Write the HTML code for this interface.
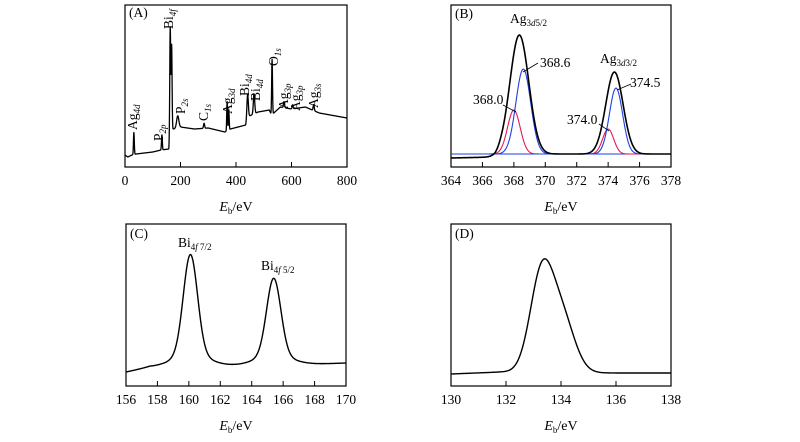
<!DOCTYPE html>
<html><head><meta charset="utf-8"><style>
html,body{margin:0;padding:0;background:#fff}
svg{display:block;font-family:"Liberation Serif",serif}
</style></head><body>
<svg id="fig" width="800" height="442" viewBox="0 0 800 442"></svg>
<script>
// ---- Panel A data (survey) ----
const aBaseX = [0,10,25,40,100,130,158,162,175,200,250,300,360,380,435,440,480,520,528,540,560,600,650,700,800];
const aBaseY = [12,10,12,13,15,17,18,38,38,40,38,39,35,38,42,50,55,57,52,55,60,58,60,54,49];
const aPeakPos = [32,133,163,168,190,285,368,374,442,465,530,573,604,680];
const aPeakHt  = [22,15,101,84,12,5,29,20,22,20,55,6,4,6];
const aPeakW   = [1.5,1.5,1.6,1.6,4,2,1.4,1.4,2.5,2.5,1.5,2,2,2];
const aTicks = [0,200,400,600,800];
// ---- Panel B data (Ag 3d) ----
const bBase = 13;
const bPos = [368.0,368.6,374.0,374.5];
const bHt  = [44,85,25,66];
const bW   = [0.4,0.47,0.35,0.42];
const bColor = ['#e8194f','#1f3fe0','#e8194f','#1f3fe0'];
const bMeasPos = [368.35,374.4];
const bMeasHt  = [119,82];
const bMeasW   = [0.6,0.55];
const bTicks = [364,366,368,370,372,374,376,378];
// ---- Panel C data (Bi 4f) ----
const cBaseX = [156,157.5,158.5,161.5,166.5,170];
const cBaseY = [14,19,19,20,21,23];
const cPos = [160.1,165.4];
const cHt  = [100,77];
const cTail = [12,10];
const cW   = [0.45,0.45];
const cTicks = [156,158,160,162,164,166,168,170];
// ---- Panel D data (P 2p) ----
const dBaseX = [130,131.8,136,138];
const dBaseY = [12,14,13,13];
const dPos = [133.3,134.05];
const dHt  = [98,52];
const dW   = [0.42,0.45];
const dTicks = [130,132,134,136,138];

const NS='http://www.w3.org/2000/svg';
const svg=document.getElementById('fig');
function mk(tag,attrs,parent){const e=document.createElementNS(NS,tag);for(const k in attrs)e.setAttribute(k,attrs[k]);(parent||svg).appendChild(e);return e;}
function interp(xs,ys,x){if(x<=xs[0])return ys[0];for(let i=1;i<xs.length;i++){if(x<=xs[i]){const t=(x-xs[i-1])/(xs[i]-xs[i-1]);return ys[i-1]+t*(ys[i]-ys[i-1]);}}return ys[ys.length-1];}
function gauss(x,p,h,w){return h*Math.exp(-0.5*((x-p)/w)*((x-p)/w));}

function panel(name,L,R,T,B,x0,x1,ticks,ymax){
  const g=mk('g',{});
  
  
  const sx=v=>L+(v-x0)/(x1-x0)*(R-L);
  const sy=v=>B-v/ymax*(B-T);
  const frame=mk('rect',{x:L,y:T,width:R-L,height:B-T,fill:'none',stroke:'#000','stroke-width':1.2},g);
  
  
  ticks.forEach(t=>{
    const tk=mk('line',{x1:sx(t),x2:sx(t),y1:B,y2:B-5,stroke:'#000','stroke-width':1},g);
    
    
    const lb=mk('text',{x:sx(t),y:B+18,'text-anchor':'middle','font-size':13.5},g);
    lb.textContent=t;
    
    
  });
  const tt=mk('text',{x:(L+R)/2,y:B+44,'text-anchor':'middle','font-size':14},g);
  tt.innerHTML='<tspan font-style="italic">E</tspan><tspan font-size="9" dy="3">b</tspan><tspan dy="-3">/eV</tspan>';
  
  
  return {g,sx,sy};
}
function curve(P,x0,x1,step,fn,color,width,name){
  let d='';for(let x=x0;x<=x1+1e-9;x+=step){d+=(d?'L':'M')+P.sx(x).toFixed(2)+','+P.sy(fn(x)).toFixed(2);}
  const p=mk('path',{d,fill:'none',stroke:color,'stroke-width':width,'stroke-linejoin':'round'},P.g);
  
  
}
function label(P,x,y,html,name,rot,size){
  const t=mk('text',{x,y,'font-size':size||13.5},P.g);
  if(rot)t.setAttribute('transform','rotate(-90 '+x+' '+y+')');
  t.innerHTML=html;
  
  
}
function leader(P,x1,y1,x2,y2){
  const l=mk('line',{x1,y1,x2,y2,stroke:'#000','stroke-width':0.8},P.g);
  
  
}
const sub=(s,it)=>'<tspan font-size="9" dy="3"'+(it?' font-style="italic"':'')+'>'+s+'</tspan><tspan dy="-3"></tspan>';

// Panel A
const A=panel('panel-a-survey',125,347,5,167,0,800,aTicks,162);
curve(A,0,800,0.5,x=>{let v=interp(aBaseX,aBaseY,x);for(let i=0;i<aPeakPos.length;i++)v+=gauss(x,aPeakPos[i],aPeakHt[i],aPeakW[i]);return v;},'#000',1.3,'survey-spectrum');
label(A,129,17,'(A)','panel-label');
label(A,137,130,'Ag'+sub('4d',true),'label-ag4d',true);
label(A,173,29,'Bi'+sub('4f',true),'label-bi4f',true);
label(A,163,141,'P'+sub('2p',true),'label-p2p',true);
label(A,185,114,'P'+sub('2s',true),'label-p2s',true);
label(A,208,121,'C'+sub('1s',true),'label-c1s',true);
label(A,232,114,'Ag'+sub('3d',true),'label-ag3d',true);
label(A,249,96,'Bi'+sub('4d',true),'label-bi4d-1',true);
label(A,260,101,'Bi'+sub('4d',true),'label-bi4d-2',true);
label(A,278,66,'O'+sub('1s',true),'label-o1s',true);
label(A,288,109,'Ag'+sub('3p',true),'label-ag3p-1',true);
label(A,300,111,'Ag'+sub('3p',true),'label-ag3p-2',true);
label(A,318,108,'Ag'+sub('3s',true),'label-ag3s',true);

// Panel B
const B=panel('panel-b-ag3d',451,671,5,167,364,378,bTicks,162);
for(let i=0;i<bPos.length;i++){
  curve(B,364,378,0.05,x=>bBase+gauss(x,bPos[i],bHt[i],bW[i]),bColor[i],1.1,'fit-component-'+bPos[i]);
}
curve(B,364,378,0.05,x=>{let v=interp([364,366.8,367.2,378],[9,10,bBase,bBase],x);for(let i=0;i<bMeasPos.length;i++)v+=gauss(x,bMeasPos[i],bMeasHt[i],bMeasW[i]);return v;},'#000',1.6,'ag3d-measured');
label(B,455,18,'(B)','panel-label');
label(B,510,23,'Ag'+sub('3<tspan font-style="italic">d</tspan>5/2'),'label-ag3d52',false);
label(B,540,67,'368.6','label-368-6');
leader(B,523,72,538,63);
label(B,473,104,'368.0','label-368-0');
leader(B,503,105,516,112);
label(B,600,63,'Ag'+sub('3<tspan font-style="italic">d</tspan>3/2'),'label-ag3d32',false);
label(B,630,87,'374.5','label-374-5');
leader(B,617,90,631,84);
label(B,567,124,'374.0','label-374-0');
leader(B,599,124,609,131);

// Panel C
const C=panel('panel-c-bi4f',126,346,224,386,156,170,cTicks,162);
curve(C,156,170,0.05,x=>{let v=interp(cBaseX,cBaseY,x);for(let i=0;i<cPos.length;i++)v+=gauss(x,cPos[i],cHt[i],cW[i])+gauss(x,cPos[i],cTail[i],cW[i]*2.5);return v;},'#000',1.4,'bi4f-spectrum');
label(C,130,238,'(C)','panel-label');
label(C,178,247,'Bi'+sub('4<tspan font-style="italic">f</tspan> 7/2'),'label-bi4f72');
label(C,261,270,'Bi'+sub('4<tspan font-style="italic">f</tspan> 5/2'),'label-bi4f52');

// Panel D
const D=panel('panel-d-p2p',451,671,224,386,130,138,dTicks,162);
curve(D,130,138,0.04,x=>{let v=interp(dBaseX,dBaseY,x);for(let i=0;i<dPos.length;i++)v+=gauss(x,dPos[i],dHt[i],dW[i]);return v;},'#000',1.4,'p2p-spectrum');
label(D,455,238,'(D)','panel-label');
</script>
</body></html>
